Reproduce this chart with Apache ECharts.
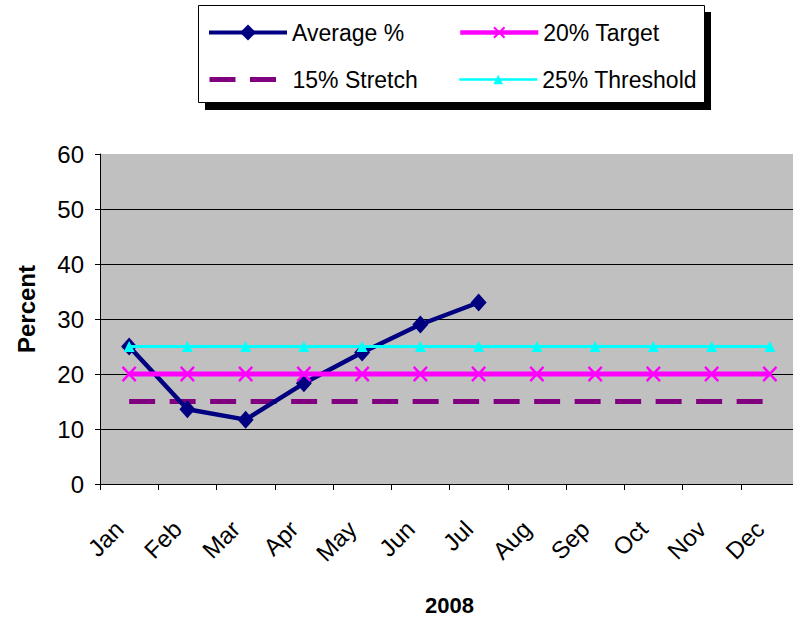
<!DOCTYPE html>
<html>
<head>
<meta charset="utf-8">
<title>Average % 2008</title>
<script src="https://cdn.jsdelivr.net/npm/echarts@6/dist/echarts.min.js"></script>
<style>
  html, body { margin: 0; padding: 0; background: #ffffff; }
  #chart { width: 793px; height: 621px; }
</style>
</head>
<body>
<div id="chart"></div>
<script>
// Months of 2008
const months = ['Jan', 'Feb', 'Mar', 'Apr', 'May', 'Jun', 'Jul', 'Aug', 'Sep', 'Oct', 'Nov', 'Dec'];

// Monthly average percentage (reported through July)
const averagePct = [25.0, 13.6, 11.7, 18.3, 23.9, 29.0, 33.0, null, null, null, null, null];

// Reference levels
const target20 = [20, 20, 20, 20, 20, 20, 20, 20, 20, 20, 20, 20];
const stretch15 = [15, 15, 15, 15, 15, 15, 15, 15, 15, 15, 15, 15];
const threshold25 = [25, 25, 25, 25, 25, 25, 25, 25, 25, 25, 25, 25];

// Value axis range
const yMin = 0;
const yMax = 60;
const yStep = 10;

const seriesNames = ['Average %', '20% Target', '15% Stretch', '25% Threshold'];

const FONT = '"Liberation Sans", Arial, sans-serif';
const crossSymbol = 'path://M0,1.4L1.4,0L12,10.6L10.6,12Z M10.6,0L12,1.4L1.4,12L0,10.6Z';

const legendBase = {
  orient: 'horizontal',
  padding: 0,
  itemWidth: 78,
  itemGap: 0,
  selectedMode: false,
  z: 10,
  textStyle: { fontSize: 23, color: '#000', fontFamily: FONT }
};

const chart = echarts.init(document.getElementById('chart'), null, { renderer: 'svg' });

chart.setOption({
  animation: false,
  backgroundColor: '#ffffff',
  textStyle: { fontFamily: FONT },
  graphic: [
    // legend frame with its drop shadow
    { type: 'rect', z: 1, shape: { x: 205, y: 12, width: 506, height: 98 }, style: { fill: '#000' } },
    { type: 'rect', z: 2, shape: { x: 198.5, y: 5.5, width: 506, height: 97 }, style: { fill: '#fff', stroke: '#000', lineWidth: 1 } }
  ],
  legend: [
    Object.assign({}, legendBase, { data: [seriesNames[0]], left: 207, top: 21, itemHeight: 20, lineStyle: { width: 4 } }),
    Object.assign({}, legendBase, { data: [seriesNames[1]], left: 458, top: 21, itemHeight: 15, lineStyle: { width: 4.5 } }),
    Object.assign({}, legendBase, { data: [seriesNames[2]], left: 207, top: 68, itemHeight: 20, lineStyle: { width: 5 }, itemStyle: { opacity: 0 } }),
    Object.assign({}, legendBase, { data: [seriesNames[3]], left: 458, top: 68, itemHeight: 12, lineStyle: { width: 2.5 } })
  ],
  grid: {
    show: true,
    left: 100,
    top: 154,
    width: 699,
    height: 330,
    backgroundColor: '#C0C0C0',
    borderWidth: 0,
    containLabel: false,
    outerBoundsMode: 'none'
  },
  xAxis: {
    type: 'category',
    data: months,
    boundaryGap: true,
    axisLine: { show: true, lineStyle: { color: '#000', width: 1 } },
    axisTick: { show: true, length: 6, alignWithLabel: false, interval: 0, lineStyle: { color: '#000' } },
    axisLabel: { rotate: 45, interval: 0, fontSize: 24, color: '#000', margin: 31, padding: [0, 14, 0, 0], fontFamily: FONT },
    splitLine: { show: false },
    name: '2008',
    nameLocation: 'middle',
    nameGap: 110,
    nameTextStyle: { fontSize: 22, fontWeight: 'bold', color: '#000', fontFamily: FONT }
  },
  yAxis: {
    type: 'value',
    min: yMin,
    max: yMax,
    interval: yStep,
    axisLine: { show: true, lineStyle: { color: '#000', width: 1 } },
    axisTick: { show: true, length: 5, lineStyle: { color: '#000' } },
    axisLabel: { fontSize: 24, color: '#000', margin: 16, fontFamily: FONT },
    splitLine: { show: true, showMaxLine: false, lineStyle: { color: '#000', width: 1 } },
    name: 'Percent',
    nameLocation: 'middle',
    nameRotate: 90,
    nameGap: 62,
    nameTextStyle: { fontSize: 24, fontWeight: 'bold', color: '#000', fontFamily: FONT, padding: [0, 0, 0, 20] }
  },
  series: [
    {
      name: seriesNames[0],
      type: 'line',
      data: averagePct,
      z: 3,
      symbol: 'diamond',
      symbolSize: [16, 18],
      showAllSymbol: true,
      connectNulls: false,
      lineStyle: { color: '#000080', width: 4.5 },
      itemStyle: { color: '#000080' }
    },
    {
      name: seriesNames[1],
      type: 'line',
      data: target20,
      z: 4,
      symbol: crossSymbol,
      symbolSize: [15, 16],
      showAllSymbol: true,
      lineStyle: { color: '#FF00FF', width: 5 },
      itemStyle: { color: '#FF00FF' }
    },
    {
      name: seriesNames[2],
      type: 'line',
      data: stretch15,
      z: 2,
      symbol: 'none',
      lineStyle: { color: '#800080', width: 5, type: [26, 14.5], cap: 'butt' },
      itemStyle: { color: '#800080' }
    },
    {
      name: seriesNames[3],
      type: 'line',
      data: threshold25,
      z: 5,
      symbol: 'triangle',
      symbolSize: 11,
      showAllSymbol: true,
      lineStyle: { color: '#00FFFF', width: 3 },
      itemStyle: { color: '#00FFFF' }
    }
  ]
});
</script>
</body>
</html>
